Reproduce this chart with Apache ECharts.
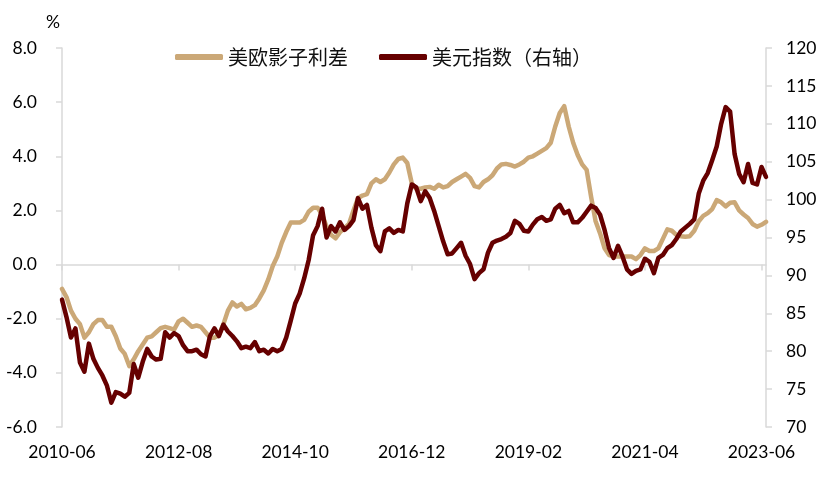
<!DOCTYPE html>
<html>
<head>
<meta charset="utf-8">
<script src="https://cdn.jsdelivr.net/npm/echarts@6/dist/echarts.min.js"></script>
<style>
html,body{margin:0;padding:0;background:#fff;}
#chart{width:822px;height:489px;}
</style>
</head>
<body>
<div id="chart"></div>
<script>
// Monthly categories 2010-06 .. 2023-07
var startYear = 2010, startMonth = 6, nMonths = 158;
var categories = [];
for (var k = 0; k < nMonths; k++) {
  var m = startMonth - 1 + k;
  var y = startYear + Math.floor(m / 12);
  var mm = (m % 12) + 1;
  categories.push(y + '-' + (mm < 10 ? '0' + mm : mm));
}

var seriesNames = ['美欧影子利差', '美元指数（右轴）'];

// 美欧影子利差 (%)
var spread = [
  -0.9, -1.2, -1.7, -2.0, -2.2, -2.7, -2.5, -2.2, -2.05, -2.05,
  -2.3, -2.3, -2.65, -3.1, -3.3, -3.75, -3.5, -3.2, -2.95, -2.7,
  -2.65, -2.5, -2.35, -2.3, -2.35, -2.4, -2.1, -2.0, -2.15, -2.3,
  -2.25, -2.3, -2.5, -2.7, -2.7, -2.6, -2.2, -1.7, -1.4, -1.55,
  -1.45, -1.65, -1.6, -1.5, -1.25, -0.95, -0.55, -0.05, 0.3, 0.8,
  1.2, 1.55, 1.55, 1.55, 1.65, 1.95, 2.1, 2.1, 1.85, 1.4,
  1.1, 0.97, 1.2, 1.35, 1.5, 2.0, 2.45, 2.55, 2.6, 3.0,
  3.15, 3.05, 3.15, 3.4, 3.7, 3.9, 3.95, 3.75, 3.0, 2.8,
  2.8, 2.85, 2.87, 2.8, 2.95, 2.85, 2.9, 3.05, 3.15, 3.25,
  3.35, 3.2, 2.9, 2.85, 3.05, 3.15, 3.3, 3.55, 3.7, 3.72,
  3.68, 3.62, 3.7, 3.8, 3.95, 4.0, 4.1, 4.2, 4.3, 4.5,
  5.1, 5.6, 5.85, 5.1, 4.5, 4.05, 3.7, 3.5, 2.5, 1.6,
  1.15, 0.6, 0.35, 0.3, 0.3, 0.3, 0.3, 0.3, 0.2, 0.35,
  0.6, 0.5, 0.5, 0.6, 0.95, 1.3, 1.25, 1.1, 1.05, 1.03,
  1.05, 1.25, 1.6, 1.8, 1.9, 2.05, 2.38, 2.3, 2.15, 2.28,
  2.3, 2.0, 1.85, 1.72, 1.5, 1.4, 1.47, 1.58
];

// 美元指数 (right axis)
var dxy = [
  86.8, 84.5, 81.8, 83.0, 78.5, 77.3, 81.0, 79.0, 77.8, 76.8,
  75.5, 73.2, 74.6, 74.4, 74.0, 74.5, 78.3, 76.5, 78.6, 80.3,
  79.3, 78.9, 79.0, 82.5, 81.8, 82.4, 82.0, 80.8, 80.0, 80.0,
  80.2, 79.6, 79.3, 82.0, 83.0, 82.0, 83.5, 82.6, 82.0, 81.3,
  80.4, 80.6, 80.4, 81.2, 80.0, 80.2, 79.7, 80.3, 80.0, 80.3,
  81.8, 84.0, 86.3, 87.6, 89.6, 92.0, 95.3, 96.5, 98.8, 95.0,
  96.5, 95.8, 97.0, 96.0, 96.5, 97.3, 100.2, 98.8, 99.3, 96.3,
  94.0, 93.2, 95.8, 96.2, 95.6, 96.0, 95.8, 99.5, 102.0, 101.6,
  99.8, 101.1, 100.2, 98.5, 96.5, 94.5, 92.8, 92.9, 93.6, 94.3,
  92.6, 91.5, 89.5, 90.3, 90.8, 93.0, 94.3, 94.6, 94.8, 95.1,
  95.6, 97.2, 96.8, 95.9, 95.8, 96.7, 97.4, 97.7, 97.2, 97.4,
  98.8, 99.3, 98.2, 98.5, 97.0, 97.0, 97.6, 98.4, 99.2, 98.9,
  98.0, 96.0, 93.6, 92.3, 93.9, 92.5, 90.8, 90.2, 90.6, 90.8,
  92.2, 91.8, 90.3, 92.3, 92.7, 93.6, 94.0, 94.8, 95.8, 96.3,
  96.8, 97.4, 100.8, 102.5, 103.5, 105.2, 107.0, 110.0, 112.2, 111.6,
  106.0, 103.4, 102.3, 104.7, 102.2, 102.0, 104.3, 103.0
];

var leftTicks = {min: -6, max: 8, interval: 2};
var rightTicks = {min: 70, max: 120, interval: 5};

var axisFont = 'Lato, "Open Sans", sans-serif';
var cjkFont = '"Noto Sans CJK SC", sans-serif';
var gridColor = '#d9d9d9';
var tanColor = '#CBA877';
var darkColor = '#660000';

var chart = echarts.init(document.getElementById('chart'), null, {renderer: 'canvas'});
chart.setOption({
  animation: false,
  backgroundColor: '#ffffff',
  grid: {left: 62, right: 56, top: 48, bottom: 62, containLabel: false},
  graphic: [{
    type: 'text', left: 46, top: 13,
    style: {text: '%', fontSize: 17.5, fontFamily: axisFont, fill: '#000'}
  }],
  legend: {
    left: 170, top: 42,
    itemWidth: 48, itemHeight: 6, itemGap: 31,
    icon: 'roundRect',
    textStyle: {fontSize: 20, fontFamily: cjkFont, color: '#111'},
    data: seriesNames
  },
  xAxis: [{
    type: 'category', data: categories, boundaryGap: false, position: 'bottom',
    axisLine: {show: false, onZero: false},
    axisTick: {show: false},
    axisLabel: {interval: 25, margin: 16, fontSize: 17.5, fontFamily: axisFont, color: '#000'},
    splitLine: {show: false}
  }, {
    type: 'category', data: categories, boundaryGap: false, position: 'bottom',
    axisLine: {show: true, onZero: true, onZeroAxisIndex: 0, lineStyle: {color: gridColor, width: 1.5}},
    axisTick: {show: true, interval: 25, length: 6, lineStyle: {color: gridColor, width: 1.5}},
    axisLabel: {show: false},
    splitLine: {show: false}
  }],
  yAxis: [{
    type: 'value', position: 'left',
    min: leftTicks.min, max: leftTicks.max, interval: leftTicks.interval,
    axisLine: {show: true, lineStyle: {color: gridColor, width: 1.5}},
    axisTick: {show: true, length: 6, lineStyle: {color: gridColor, width: 1.5}},
    axisLabel: {margin: 25, fontSize: 17.5, fontFamily: axisFont, color: '#000',
      formatter: function (v) { return v.toFixed(1); }},
    splitLine: {show: false}
  }, {
    type: 'value', position: 'right',
    min: rightTicks.min, max: rightTicks.max, interval: rightTicks.interval,
    axisLine: {show: true, lineStyle: {color: gridColor, width: 1.5}},
    axisTick: {show: true, length: 6, lineStyle: {color: gridColor, width: 1.5}},
    axisLabel: {margin: 20, fontSize: 17.5, fontFamily: axisFont, color: '#000'},
    splitLine: {show: false}
  }],
  series: [{
    name: seriesNames[0], type: 'line', xAxisIndex: 0, yAxisIndex: 0,
    data: spread, showSymbol: false, symbol: 'none',
    lineStyle: {color: tanColor, width: 4.5, join: 'round', cap: 'round'},
    itemStyle: {color: tanColor}
  }, {
    name: seriesNames[1], type: 'line', xAxisIndex: 0, yAxisIndex: 1,
    data: dxy, showSymbol: false, symbol: 'none',
    lineStyle: {color: darkColor, width: 4.5, join: 'round', cap: 'round'},
    itemStyle: {color: darkColor}
  }]
});
</script>
</body>
</html>
